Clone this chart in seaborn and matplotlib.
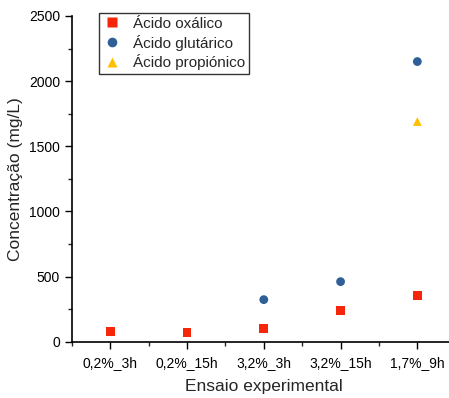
import numpy as np
import pandas as pd
import seaborn as sns
import matplotlib.pyplot as plt
from matplotlib.ticker import MultipleLocator

ensaios = ["0,2%_3h", "0,2%_15h", "3,2%_3h", "3,2%_15h", "1,7%_9h"]
oxalico = [77, 71, 100, 243, 358]
glutarico = [np.nan, np.nan, 324, 462, 2150]
propionico = [np.nan, np.nan, np.nan, np.nan, 1690]

df = pd.DataFrame({
    "Ensaio": ensaios * 3,
    "Concentração": oxalico + glutarico + propionico,
    "Ácido": ["Ácido oxálico"] * 5 + ["Ácido glutárico"] * 5 + ["Ácido propiónico"] * 5,
}).dropna()
df["x"] = df["Ensaio"].map({e: i for i, e in enumerate(ensaios)})

sns.set_style("ticks")
plt.rcParams["font.family"] = ["Liberation Sans", "DejaVu Sans"]

fig = plt.figure(figsize=(4.49, 3.98), dpi=100)
ax = fig.add_axes([0.160, 0.141, 0.855, 0.819])

palette = {"Ácido oxálico": "#F5260A", "Ácido glutárico": "#2E5F96", "Ácido propiónico": "#FFC000"}
markers = {"Ácido oxálico": "s", "Ácido glutárico": "o", "Ácido propiónico": "^"}
sns.scatterplot(data=df, x="x", y="Concentração", hue="Ácido", style="Ácido",
                palette=palette, markers=markers, s=40, edgecolor="none", ax=ax)

ax.set_xlim(-0.5, 4.5)
ax.set_ylim(0, 2500)
ax.set_xticks(range(len(ensaios)))
ax.set_xticklabels(ensaios)
ax.xaxis.set_minor_locator(MultipleLocator(0.5))
ax.yaxis.set_major_locator(MultipleLocator(500))
ax.yaxis.set_minor_locator(MultipleLocator(250))
ax.tick_params(which="major", length=5, width=1, labelsize=10, colors="black", direction="out")
ax.tick_params(which="minor", length=3, width=1, direction="out")
ax.tick_params(axis="x", pad=5)
for s in ["left", "bottom"]:
    ax.spines[s].set_linewidth(1.2)
    ax.spines[s].set_color("black")
sns.despine(ax=ax)

ax.set_xlabel("Ensaio experimental", fontsize=12.5, labelpad=7)
ax.set_ylabel("Concentração (mg/L)", fontsize=12.5, labelpad=4)

leg = ax.legend(loc="upper left", bbox_to_anchor=(0.07, 1.009), borderaxespad=0,
                fontsize=11, frameon=True, fancybox=False, edgecolor="#333333",
                framealpha=1, handletextpad=0.8, borderpad=0.25, labelspacing=0.25,
                handlelength=1.2, markerscale=1.1)
leg.get_frame().set_linewidth(1)
leg.set_title(None)

fig.savefig("out.png", dpi=100)
